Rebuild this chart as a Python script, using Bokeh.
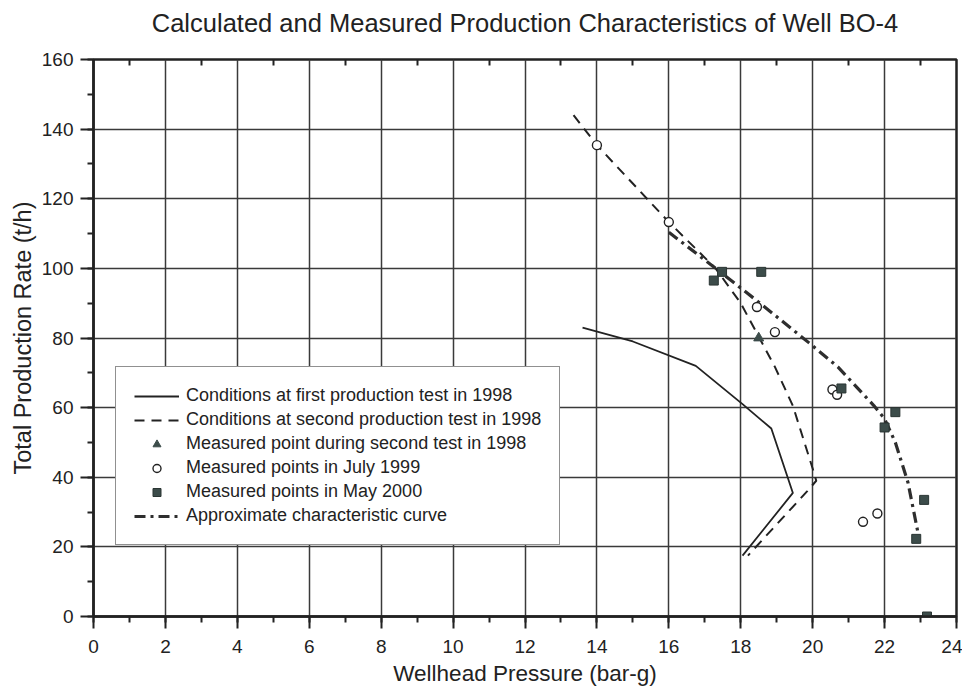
from bokeh.plotting import figure
from bokeh.models import LinearAxis, FixedTicker, SingleIntervalTicker, Legend, LegendItem, Range1d
from bokeh.embed import file_html
from bokeh.resources import INLINE

# ---- data ----
first_test_p = [13.6, 15.0, 16.75, 18.05, 18.85, 19.45, 18.05]
first_test_q = [83.0, 79.0, 72.0, 61.0, 54.0, 35.5, 17.5]

second_test_p = [13.35, 14.0, 16.0, 17.3, 18.0, 18.95, 19.45, 20.0, 20.1, 19.85, 18.2]
second_test_q = [144.0, 135.4, 113.3, 100.0, 90.0, 71.7, 60.5, 42.5, 39.0, 36.0, 17.5]

tri_p = [18.5]
tri_q = [80.0]

july99_p = [14.0, 16.0, 18.45, 18.95, 20.55, 20.68, 21.4, 21.8]
july99_q = [135.4, 113.3, 88.9, 81.7, 65.2, 63.7, 27.2, 29.6]

may00_p = [17.48, 17.25, 18.57, 20.8, 22.3, 22.0, 23.1, 22.88, 23.18]
may00_q = [99.0, 96.5, 99.0, 65.5, 58.7, 54.3, 33.5, 22.3, 0.0]

char_p = [16.0, 17.3, 18.5, 19.9, 20.7, 21.7, 22.0, 22.3, 22.65, 22.93]
char_q = [110.4, 100.0, 90.3, 78.6, 71.7, 60.6, 56.8, 50.0, 38.5, 24.0]

title_text = "Calculated and Measured Production Characteristics of Well BO-4"
x_label = "Wellhead Pressure (bar-g)"
y_label = "Total Production Rate (t/h)"
legend_labels = [
    "Conditions at first production test in 1998",
    "Conditions at second production test in 1998",
    "Measured point during second test in 1998",
    "Measured points in July 1999",
    "Measured points in May 2000",
    "Approximate characteristic curve",
]

FONT = "Liberation Sans"
INK = "#222222"
GRID = "#3a3a3a"
SQ = "#3c4c4a"

p = figure(width=962, height=692, output_backend="svg", toolbar_location=None,
           x_range=Range1d(0, 24), y_range=Range1d(0, 160),
           min_border_left=93, min_border_right=6, min_border_top=59, min_border_bottom=76,
           title=None)
p.background_fill_color = "white"
p.border_fill_color = "white"
p.outline_line_color = INK
p.outline_line_width = 2.5

xt = SingleIntervalTicker(interval=2, num_minor_ticks=2)
yt = SingleIntervalTicker(interval=20, num_minor_ticks=2)
p.xaxis.ticker = xt
p.yaxis.ticker = yt

for ax in (p.xaxis[0], p.yaxis[0]):
    ax.axis_line_color = INK
    ax.axis_line_width = 2.5
    ax.major_tick_line_color = INK
    ax.major_tick_line_width = 2
    ax.minor_tick_line_color = INK
    ax.minor_tick_line_width = 2
    ax.major_tick_in = 0
    ax.minor_tick_in = 0
    ax.minor_tick_out = 6
    ax.major_label_text_font = FONT
    ax.major_label_text_font_size = "19px"
    ax.major_label_text_color = INK
    ax.axis_label_text_font = FONT
    ax.axis_label_text_font_style = "normal"
    ax.axis_label_text_color = INK

p.xaxis.axis_label_text_font_size = "22.5px"
p.yaxis.axis_label_text_font_size = "23.5px"
p.xaxis.major_tick_out = 12
p.yaxis.major_tick_out = 13
p.xaxis.major_label_standoff = 11
p.yaxis.major_label_standoff = 7
p.xaxis.axis_label = x_label
p.yaxis.axis_label = y_label
p.xaxis.axis_label_standoff = 5
p.yaxis.axis_label_standoff = 3

# top axis: inward minor ticks only; its axis label carries the chart title
top = LinearAxis(ticker=FixedTicker(ticks=[], minor_ticks=list(range(1, 24, 2))))
top.axis_line_color = None
top.major_tick_line_color = None
top.major_tick_in = 0
top.major_tick_out = 0
top.minor_tick_line_color = INK
top.minor_tick_line_width = 2
top.minor_tick_in = 6
top.minor_tick_out = 0
top.major_label_text_font_size = "0px"
top.major_label_standoff = 0
top.axis_label = title_text
top.axis_label_text_font = FONT
top.axis_label_text_font_size = "25.5px"
top.axis_label_text_font_style = "normal"
top.axis_label_text_color = INK
top.axis_label_standoff = 23
p.add_layout(top, "above")

p.xgrid.ticker = xt
p.ygrid.ticker = yt
p.xgrid.grid_line_color = GRID
p.ygrid.grid_line_color = GRID
p.xgrid.grid_line_width = 1.5
p.ygrid.grid_line_width = 1.5

r1 = p.line(first_test_p, first_test_q, line_color=INK, line_width=1.8)
r2 = p.line(second_test_p, second_test_q, line_color=INK, line_width=2, line_dash="10 7")
r6 = p.line(char_p, char_q, line_color="#2e2e2e", line_width=3.2, line_dash="11 5 3 5")
r3 = p.scatter(tri_p, tri_q, marker="triangle", size=10, fill_color=SQ, line_color=SQ)
r4 = p.scatter(july99_p, july99_q, marker="circle", size=9, fill_color="white", line_color=INK, line_width=1.4)
r5 = p.scatter(may00_p, may00_q, marker="square", size=9, fill_color=SQ, line_color="#2a3533")

legend = Legend(items=[
    LegendItem(label=legend_labels[0], renderers=[r1]),
    LegendItem(label=legend_labels[1], renderers=[r2]),
    LegendItem(label=legend_labels[2], renderers=[r3]),
    LegendItem(label=legend_labels[3], renderers=[r4]),
    LegendItem(label=legend_labels[4], renderers=[r5]),
    LegendItem(label=legend_labels[5], renderers=[r6]),
], location=(22, 71))
legend.border_line_color = INK
legend.border_line_width = 1.5
legend.background_fill_color = "white"
legend.background_fill_alpha = 1
legend.label_text_font = FONT
legend.label_text_font_size = "18px"
legend.label_text_color = INK
legend.glyph_width = 45
legend.glyph_height = 20
legend.label_standoff = 7
legend.padding = 18
legend.spacing = 3
legend.margin = 0
p.add_layout(legend)

open("out.html", "w").write(file_html(p, INLINE))
